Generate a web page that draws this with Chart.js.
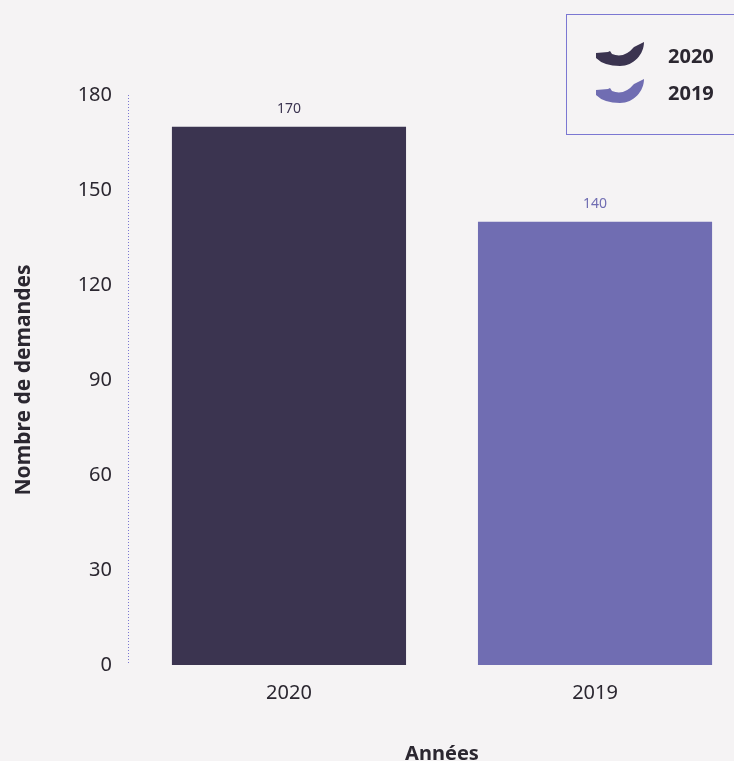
<!DOCTYPE html>
<html>
<head>
<meta charset="utf-8">
<script src="https://cdn.jsdelivr.net/npm/chart.js@4/dist/chart.umd.min.js"></script>
<style>
  html, body { margin: 0; padding: 0; background: #f5f3f4; overflow: hidden; }
  #wrap { position: absolute; left: 0; top: 0; width: 770px; height: 770px; }
</style>
</head>
<body>
<div id="wrap"><canvas id="demandesChart"></canvas></div>
<script>
const years = ['2020', '2019'];
const demandes = [170, 140];
const barColors = ['#3b3450', '#706db2'];
const yTicks = { min: 0, max: 180, step: 30 };

const FONT = '"Noto Sans", sans-serif';
const TEXT = '#2b2730';
const LINE = '#7b77d2';

// little crescent marks used in the legend
function crescent(ctx, x, y, color) {
    ctx.save();
    ctx.translate(x, y);
    ctx.fillStyle = color;
    ctx.beginPath();
    ctx.moveTo(0, 11);
    ctx.lineTo(12, 10);
    ctx.lineTo(14, 9);
    ctx.lineTo(16, 12);
    ctx.quadraticCurveTo(28, 17, 38, 5);
    ctx.lineTo(48, 0);
    ctx.bezierCurveTo(48, 12, 38, 24, 24, 24);
    ctx.quadraticCurveTo(8, 24, 0, 16);
    ctx.closePath();
    ctx.fill();
    ctx.restore();
}

const legendBox = {
    id: 'legendBox',
    afterDraw(chart) {
        const ctx = chart.ctx;
        ctx.save();
        ctx.strokeStyle = LINE;
        ctx.lineWidth = 1;
        ctx.strokeRect(566.5, 14.5, 190, 120);
        ctx.font = 'bold 20px ' + FONT;
        ctx.fillStyle = TEXT;
        ctx.textBaseline = 'middle';
        ctx.textAlign = 'left';
        years.forEach((y, i) => {
            crescent(ctx, 596, 42 + i * 37, barColors[i]);
            ctx.fillText(y, 668, 57 + i * 37);
        });
        ctx.restore();
    }
};

// dotted y axis line
const dottedAxis = {
    id: 'dottedAxis',
    beforeDatasetsDraw(chart) {
        const { ctx, chartArea } = chart;
        ctx.save();
        ctx.strokeStyle = LINE;
        ctx.lineWidth = 1;
        ctx.setLineDash([1, 2]);
        ctx.beginPath();
        ctx.moveTo(chartArea.left + 0.5, chartArea.top);
        ctx.lineTo(chartArea.left + 0.5, chartArea.bottom);
        ctx.stroke();
        ctx.restore();
    }
};

const valueLabels = {
    id: 'valueLabels',
    afterDatasetsDraw(chart) {
        const ctx = chart.ctx;
        const meta = chart.getDatasetMeta(0);
        ctx.save();
        ctx.font = '14px ' + FONT;
        ctx.textAlign = 'center';
        ctx.textBaseline = 'middle';
        meta.data.forEach((bar, i) => {
            ctx.fillStyle = barColors[i];
            ctx.fillText(demandes[i], bar.x, bar.y - 18);
        });
        ctx.restore();
    }
};

const ctx = document.getElementById('demandesChart').getContext('2d');

new Chart(ctx, {
    type: 'bar',
    data: {
        datasets: [{
            label: 'Nombre de demandes',
            data: demandes.map((v, i) => ({ x: i, y: v })),
            backgroundColor: barColors,
            barPercentage: 0.765,
            categoryPercentage: 1
        }]
    },
    options: {
        responsive: true,
        maintainAspectRatio: false,
        animation: false,
        layout: { padding: { top: 95, right: 14, left: 0, bottom: 0 } },
        plugins: {
            legend: { display: false },
            tooltip: { enabled: false }
        },
        scales: {
            x: {
                type: 'linear',
                min: -0.526,
                max: 1.526,
                offset: false,
                afterBuildTicks: scale => {
                    scale.ticks = years.map((y, i) => ({ value: i }));
                },
                afterFit: scale => { scale.height = 105; },
                grid: { display: false, drawTicks: false, offset: false },
                border: { display: false },
                ticks: {
                    padding: 16,
                    color: TEXT,
                    font: { family: FONT, size: 20 },
                    callback: v => years[v]
                },
                title: {
                    display: true,
                    text: 'Années',
                    color: TEXT,
                    font: { family: FONT, size: 20, weight: 'bold' },
                    padding: { top: 0, bottom: 4 }
                }
            },
            y: {
                min: yTicks.min,
                max: yTicks.max,
                afterFit: scale => { scale.width = 128; },
                grid: { display: false, drawTicks: false },
                border: { display: false },
                ticks: {
                    stepSize: yTicks.step,
                    padding: 16,
                    color: TEXT,
                    font: { family: FONT, size: 20 }
                },
                title: {
                    display: true,
                    text: 'Nombre de demandes',
                    color: TEXT,
                    font: { family: FONT, size: 21, weight: 'bold' },
                    padding: { top: 11, bottom: 0 }
                }
            }
        }
    },
    plugins: [dottedAxis, valueLabels, legendBox]
});
</script>
</body>
</html>
